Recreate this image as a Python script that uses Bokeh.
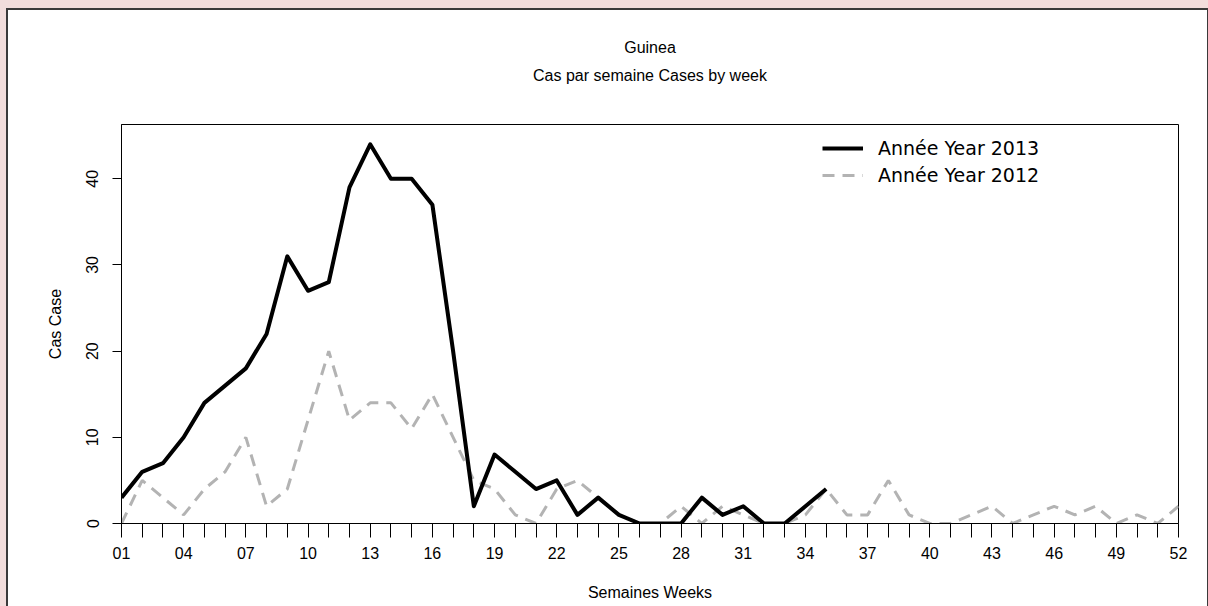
from bokeh.plotting import figure
from bokeh.models import Range1d, FixedTicker, Title, Legend, LegendItem
from bokeh.embed import file_html
from bokeh.resources import INLINE

# ---- data ----
weeks_2013 = list(range(1, 36))
cases_2013 = [3, 6, 7, 10, 14, 16, 18, 22, 31, 27, 28, 39, 44, 40, 40, 37, 20, 2, 8, 6,
              4, 5, 1, 3, 1, 0, 0, 0, 3, 1, 2, 0, 0, 2, 4]
weeks_2012 = list(range(1, 53))
cases_2012 = [0, 5, 3, 1, 4, 6, 10, 2, 4, 12, 20, 12, 14, 14, 11, 15, 10, 5, 4, 1,
              0, 4, 5, 3, 1, 0, 0, 2, 0, 2, 1, 0, 0, 1, 4, 1, 1, 5, 1, 0,
              0, 1, 2, 0, 1, 2, 1, 2, 0, 1, 0, 2]
all_weeks = list(range(1, 53))
labeled_weeks = list(range(1, 53, 3))
week_labels = ["01", "04", "07", "10", "13", "16", "19", "22", "25", "28", "31", "34",
               "37", "40", "43", "46", "49", "52"]
y_ticks = [0, 10, 20, 30, 40]

FONT = "Liberation Sans"

p = figure(width=1199, height=596, output_backend="svg", toolbar_location=None,
           x_range=Range1d(1, 52), y_range=Range1d(0, 46.3),
           title="Guinea",
           min_border_left=113, min_border_right=29, min_border_top=114, min_border_bottom=83)

p.background_fill_color = "white"
p.border_fill_color = "white"
p.outline_line_color = "black"
p.outline_line_width = 1
p.xgrid.visible = False
p.ygrid.visible = False

# outer title line
p.title.text_font = FONT
p.title.text_font_size = "16px"
p.title.text_font_style = "normal"
p.title.align = "center"
p.title.text_color = "black"
p.title.standoff = 18
# empty spacer between the titles and the plot box (closest to the box)
p.add_layout(Title(text=" ", align="center", text_font=FONT, text_font_size="10px",
                   standoff=28), "above")
# second title line
p.add_layout(Title(text="Cas par semaine Cases by week", align="center", text_font=FONT,
                   text_font_size="16px", text_font_style="normal", text_color="black",
                   standoff=0), "above")

r12 = p.line(weeks_2012, cases_2012, line_color="#b3b3b3", line_width=3, line_dash="12 8")
r13 = p.line(weeks_2013, cases_2013, line_color="black", line_width=4, line_join="round")

xa = p.xaxis[0]
xa.ticker = FixedTicker(ticks=all_weeks)
overrides = {w: "" for w in all_weeks}
for w, lab in zip(labeled_weeks, week_labels):
    overrides[w] = lab
xa.major_label_overrides = overrides
xa.minor_tick_line_color = None
xa.major_tick_in = 0
xa.major_tick_out = 14
xa.major_tick_line_color = "black"
xa.axis_line_color = "black"
xa.major_label_text_font = FONT
xa.major_label_text_font_size = "16px"
xa.major_label_text_color = "black"
xa.major_label_standoff = 9
xa.axis_label = "Semaines Weeks"
xa.axis_label_text_font = FONT
xa.axis_label_text_font_size = "16px"
xa.axis_label_text_font_style = "normal"
xa.axis_label_text_color = "black"
xa.axis_label_standoff = 22

ya = p.yaxis[0]
ya.ticker = FixedTicker(ticks=y_ticks)
ya.minor_tick_line_color = None
ya.major_tick_in = 0
ya.major_tick_out = 9
ya.major_tick_line_color = "black"
ya.axis_line_color = "black"
ya.major_label_orientation = "vertical"
ya.major_label_text_font = FONT
ya.major_label_text_font_size = "16px"
ya.major_label_text_color = "black"
ya.major_label_standoff = 14
ya.axis_label = "Cas Case"
ya.axis_label_text_font = FONT
ya.axis_label_text_font_size = "16px"
ya.axis_label_text_font_style = "normal"
ya.axis_label_text_color = "black"
ya.axis_label_standoff = 20

legend = Legend(items=[LegendItem(label="Année Year 2013", renderers=[r13]),
                       LegendItem(label="Année Year 2012", renderers=[r12])],
                location=(701, 337), padding=0, margin=0, spacing=5,
                glyph_width=41, glyph_height=20, label_height=20, label_standoff=15,
                border_line_color=None, background_fill_alpha=0,
                label_text_font="DejaVu Sans", label_text_font_size="19px",
                label_text_color="black")
p.add_layout(legend)

template = ("{% block postamble %}<style>"
            "html{background:#F2DDDC !important;overflow:hidden !important;}"
            "body{background:#ffffff !important;margin:8px 0 0 6px !important;padding:0 !important;"
            "width:1202px !important;min-width:1202px !important;"
            "border-top:2px solid #3a3a3a;border-left:2px solid #3a3a3a;border-right:1px solid #3a3a3a;"
            "box-sizing:border-box !important;overflow:visible !important;}"
            "</style>{% endblock %}")
html = None
try:
    html = file_html(p, INLINE, template=template)
    if len(html) < 200000:
        html = None
except Exception:
    html = None
if html is None:
    html = file_html(p, INLINE)
open("out.html", "w").write(html)
